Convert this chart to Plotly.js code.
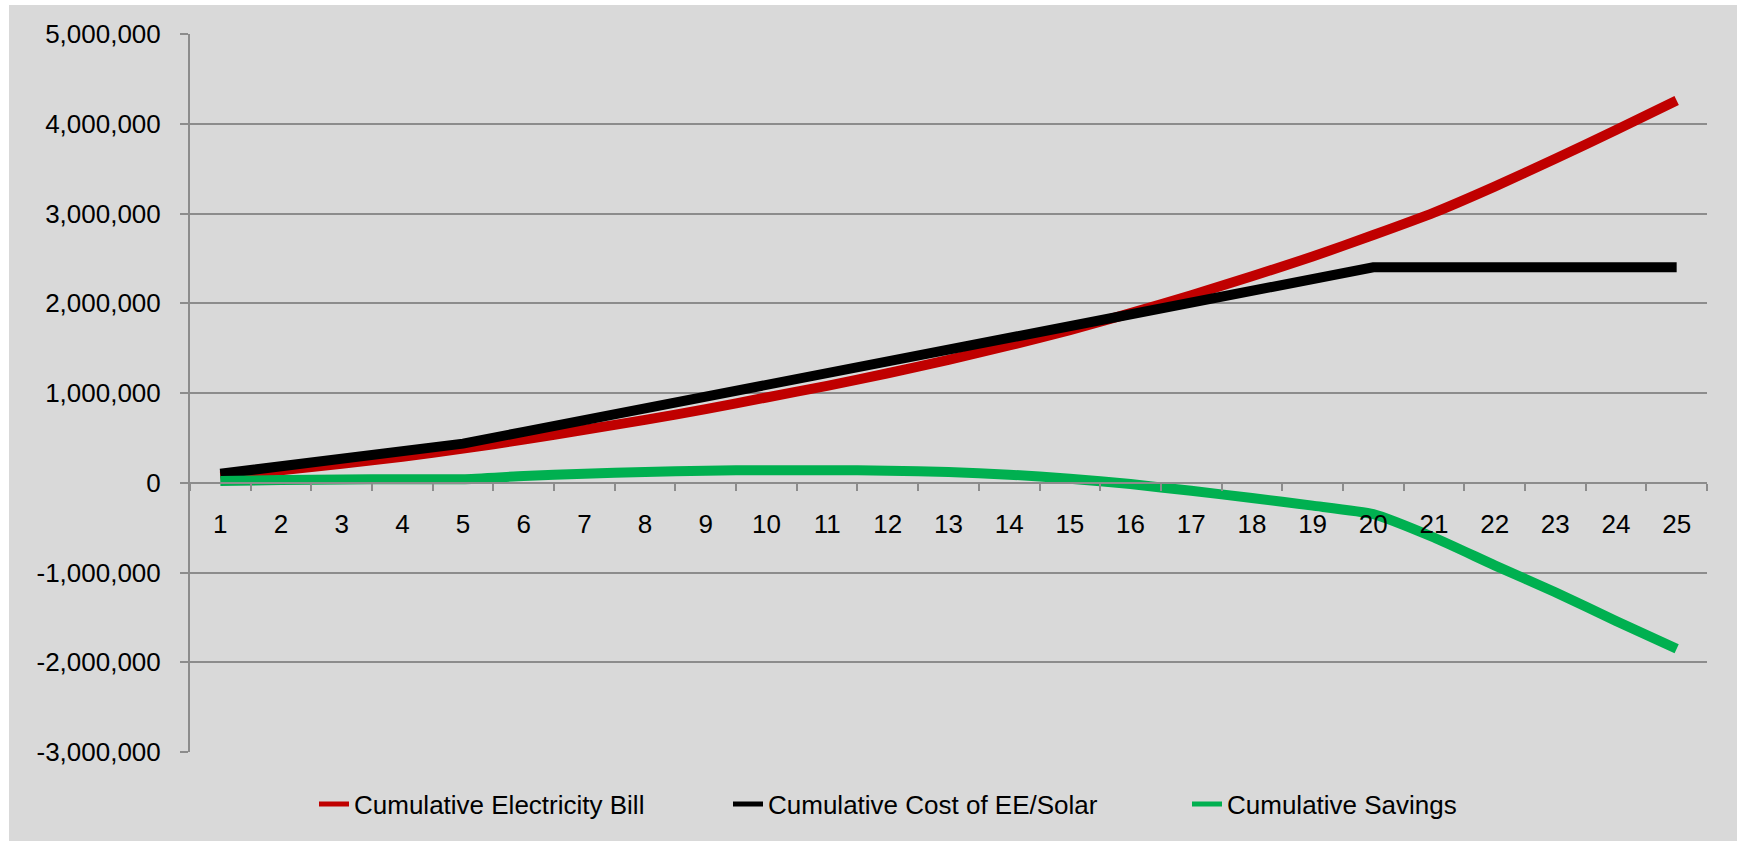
<!DOCTYPE html>
<html>
<head>
<meta charset="utf-8">
<script src="https://cdn.plot.ly/plotly-3.0.1.min.js"></script>
<style>
  html, body { margin: 0; padding: 0; background: #ffffff; }
  #chart { width: 1741px; height: 841px; }
</style>
</head>
<body>
<div id="chart"></div>
<script>
// ---- Data ----
const years = ["1","2","3","4","5","6","7","8","9","10","11","12","13","14","15","16","17","18","19","20","21","22","23","24","25"];

const electricityBill = [70000, 140000, 210000, 290000, 380000, 480000, 590000, 700000, 820000, 950000,
  1080000, 1220000, 1370000, 1530000, 1700000, 1890000, 2090000, 2300000, 2520000, 2760000,
  3010000, 3300000, 3610000, 3930000, 4260000];

const costEESolar = [100000, 184000, 268000, 352000, 436000, 567000, 698000, 829000, 960000, 1091000,
  1222000, 1353000, 1484000, 1615000, 1746000, 1877000, 2008000, 2139000, 2270000, 2400000,
  2400000, 2400000, 2400000, 2400000, 2400000];

const savings = [20000, 30000, 35000, 40000, 40000, 75000, 100000, 120000, 135000, 140000,
  140000, 135000, 120000, 90000, 45000, -15000, -90000, -170000, -255000, -350000,
  -610000, -920000, -1220000, -1540000, -1850000];

const seriesNames = ["Cumulative Electricity Bill", "Cumulative Cost of EE/Solar", "Cumulative Savings"];

const yTickVals = [-3000000, -2000000, -1000000, 0, 1000000, 2000000, 3000000, 4000000, 5000000];
const yTickText = ["-3,000,000", "-2,000,000", "-1,000,000", "0", "1,000,000", "2,000,000", "3,000,000", "4,000,000", "5,000,000"];

// ---- Styling ----
const FONT = "Liberation Sans, Arial, Helvetica, sans-serif";
const GRID = "#8c8c8c";

const traces = [
  { x: years, y: electricityBill, name: seriesNames[0], type: "scatter", mode: "lines",
    line: { color: "#c00000", width: 10, shape: "spline", smoothing: 0.5 }, legendwidth: 369 },
  { x: years, y: costEESolar, name: seriesNames[1], type: "scatter", mode: "lines",
    line: { color: "#000000", width: 10 }, legendwidth: 414 },
  { x: years, y: savings, name: seriesNames[2], type: "scatter", mode: "lines",
    line: { color: "#00b050", width: 10, shape: "spline", smoothing: 0.5 } }
];

const W = 1741, H = 841;
const L = 190, R = 34, T = 34, B = 89;
const pw = W - L - R, ph = H - T - B;
const px2x = p => (p - L) / pw;
const py2y = p => (H - B - p) / ph;

const layout = {
  width: W, height: H,
  margin: { l: L, r: R, t: T, b: B, pad: 0 },
  paper_bgcolor: "#ffffff",
  plot_bgcolor: "rgba(0,0,0,0)",
  font: { family: FONT, size: 26, color: "#000000" },
  showlegend: true,
  hovermode: false,
  shapes: [{
    type: "rect", xref: "paper", yref: "paper", layer: "below",
    x0: px2x(9), x1: px2x(1737), y0: py2y(841), y1: py2y(5),
    fillcolor: "#d9d9d9", line: { width: 0 }
  }],
  xaxis: {
    type: "category",
    range: [-0.5, years.length - 0.5],
    anchor: "free", position: 0.375,
    showline: true, linecolor: GRID, linewidth: 2,
    ticks: "outside", tickson: "boundaries", ticklen: 7, tickwidth: 2, tickcolor: GRID,
    showgrid: false, zeroline: false,
    tickfont: { family: FONT, size: 26, color: "#000000" },
    ticklabelstandoff: 18,
    fixedrange: true
  },
  yaxis: {
    range: [-3000000, 5000000],
    tickvals: yTickVals, ticktext: yTickText,
    showgrid: true, gridcolor: GRID, gridwidth: 2,
    zeroline: false,
    showline: true, linecolor: GRID, linewidth: 2,
    ticks: "outside", ticklen: 8, tickwidth: 2, tickcolor: GRID,
    tickfont: { family: FONT, size: 26, color: "#000000" },
    ticklabelstandoff: 14,
    fixedrange: true
  },
  legend: {
    orientation: "h",
    x: px2x(314), xanchor: "left",
    y: py2y(804), yanchor: "middle",
    font: { family: FONT, size: 26, color: "#000000" },
    bgcolor: "rgba(0,0,0,0)",
    itemsizing: "constant",
    traceorder: "normal"
  }
};

Plotly.newPlot("chart", traces, layout, { displayModeBar: false, staticPlot: true });
</script>
</body>
</html>
